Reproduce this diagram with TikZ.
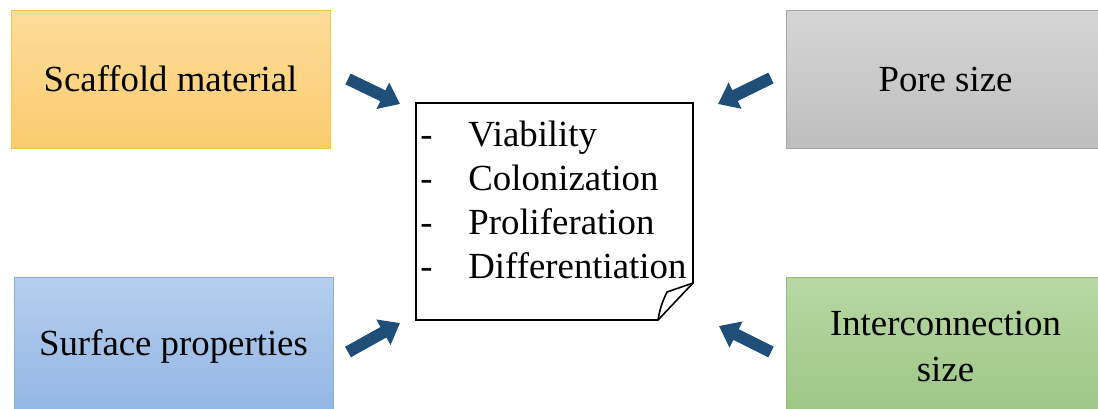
\documentclass[tikz,border=0pt]{standalone}
\usepackage{fontspec}
\setmainfont{Liberation Serif}
\usetikzlibrary{arrows.meta}
\definecolor{flowblue}{RGB}{31,78,121}
\definecolor{matline}{RGB}{247,196,70}
\definecolor{poreline}{RGB}{166,166,166}
\definecolor{surfline}{RGB}{140,172,218}
\definecolor{interline}{RGB}{146,189,121}
\begin{document}
\begin{tikzpicture}[x=0.5pt,y=-0.5pt,
    factor/.style={draw,line width=0.5pt,minimum width=159.5pt,minimum height=69pt,
        inner sep=0pt,align=center,font=\fontsize{18.4}{23}\selectfont},
    flow/.style={flowblue,line width=6pt,-{Triangle[length=9.5pt,width=14pt]}}]
                \useasboundingbox (0,0) rectangle (1098,408);
                \clip (0,0) rectangle (1098,408);

                \node[factor,matline,text=black,top color={rgb,255:red,253;green,220;blue,155},bottom color={rgb,255:red,251;green,204;blue,110}] (mat) at (170.5,79) {Scaffold material};
                \node[factor,poreline,text=black,top color={rgb,255:red,214;green,214;blue,214},bottom color={rgb,255:red,190;green,190;blue,190}] (pore) at (945.5,79) {Pore size};
                \node[factor,surfline,text=black,top color={rgb,255:red,181;green,206;blue,238},bottom color={rgb,255:red,146;green,182;blue,227}] (surf) at (173.5,346) {Surface properties};
                \node[factor,interline,text=black,top color={rgb,255:red,183;green,216;blue,164},bottom color={rgb,255:red,157;green,198;blue,133}] (inter) at (945.5,346) {Interconnection\\size};

                % note with folded corner
                \node[inner sep=0pt,font=\fontsize{18.4}{22}\selectfont,anchor=west] (list) at (420,204)
                    {\begin{tabular}{@{}l@{}l@{}}
                        \makebox[24pt][l]{-} & Viability\\
                        \makebox[24pt][l]{-} & Colonization\\
                        \makebox[24pt][l]{-} & Proliferation\\
                        \makebox[24pt][l]{-} & Differentiation
                    \end{tabular}};
                \coordinate (nw) at (416,103); \coordinate (ne) at (693,103);
                \coordinate (fa) at (693,283); \coordinate (fb) at (658,320);
                \coordinate (fc) at (667,292); \coordinate (sw) at (416,320);
                \draw[line width=0.8pt,line join=miter] (nw) -- (ne) -- (fa) -- (fb) -- (sw) -- cycle;
                \draw[line width=0.8pt] (fa) -- (fc) to[bend right=8] (fb);

                \coordinate (mat-a) at (348,79); \coordinate (mat-b) at (400,104);
                \coordinate (pore-a) at (771,78); \coordinate (pore-b) at (718,104);
                \coordinate (surf-a) at (348,352); \coordinate (surf-b) at (400,323);
                \coordinate (inter-a) at (771,352); \coordinate (inter-b) at (719,326);
                \draw[flow] (mat-a) -- (mat-b); \draw[flow] (pore-a) -- (pore-b);
                \draw[flow] (surf-a) -- (surf-b); \draw[flow] (inter-a) -- (inter-b);
\end{tikzpicture}
\end{document}
